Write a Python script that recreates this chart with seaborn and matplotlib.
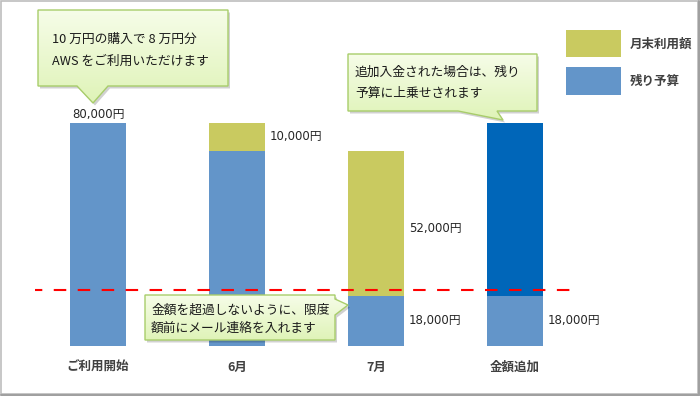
import numpy as np
import pandas as pd
import matplotlib
matplotlib.use("Agg")
import matplotlib.pyplot as plt
from matplotlib.patches import Polygon, Rectangle
import seaborn as sns

# ---- data ----
categories = ["ご利用開始", "6月", "7月", "金額追加"]
remaining = [80000, 70000, 18000, 18000]   # 残り予算
used = [0, 10000, 52000, 0]                # 月末利用額
added = [0, 0, 0, 62000]                   # 追加入金
alert_level = 20000
value_labels = ["80,000円", "10,000円", "52,000円", "18,000円", "18,000円"]
legend_labels = ["月末利用額", "残り予算"]
callout_texts = [
    ["10 万円の購入で 8 万円分", "AWS をご利用いただけます"],
    ["追加入金された場合は、残り", "予算に上乗せされます"],
    ["金額を超過しないように、限度", "額前にメール連絡を入れます"],
]

sns.set_theme(style="white")
plt.rcParams["font.family"] = ["Noto Sans CJK JP", "DejaVu Sans"]

C_BLUE = "#6395c9"
C_YEL = "#c9ca60"
C_DARK = "#0066b9"
TXT = "#262626"
VAL_FONT = ["DejaVu Sans", "Noto Sans CJK JP"]

W, H = 700, 396
fig = plt.figure(figsize=(7.0, 3.96), dpi=100)
fig.patch.set_facecolor("white")

# main axes: baseline at y=346px, 2.7875 px per 1000
base_px = 346
px_per_unit = 2.7875 / 1000
ax = fig.add_axes([0, (H - base_px) / H, 1, base_px / H], zorder=1)
df = pd.DataFrame({"cat": categories, "remaining": remaining,
                   "used": used, "added": added})
df["rem_used"] = df["remaining"] + df["used"]

bw = 56 / 139
sns.barplot(data=df, x="cat", y="remaining", color=C_BLUE, saturation=1,
            width=bw, linewidth=0, edgecolor="none", ax=ax, order=categories)
sns.barplot(data=df, x="cat", y="used", bottom=df["remaining"].to_numpy(),
            color=C_YEL, saturation=1, width=bw, linewidth=0,
            edgecolor="none", ax=ax, order=categories)
sns.barplot(data=df, x="cat", y="added", bottom=df["rem_used"].to_numpy(),
            color=C_DARK, saturation=1, width=bw, linewidth=0,
            edgecolor="none", ax=ax, order=categories)

x_left = -98 / 139
x_right = (W - 98) / 139
ax.set_xlim(x_left, x_right)
ax.set_ylim(0, base_px / px_per_unit)
for s in ax.spines.values():
    s.set_visible(False)
ax.set_yticks([])
ax.set_xlabel("")
ax.set_ylabel("")
ax.tick_params(axis="x", length=0, pad=10.5)
ax.set_xticks(range(len(categories)))
ax.set_xticklabels(categories, fontsize=9, fontweight="bold", color="#404040")
ax.patch.set_alpha(0)

# alert line
ax.hlines(alert_level, (35 - 98) / 139, (570 - 98) / 139, colors="#ff0000",
          linewidth=1.5, linestyles=(2.5, (6, 5.5)), zorder=4)

# value labels
fs = 8.5
ax.annotate(value_labels[0], (0, remaining[0] + used[0] + added[0]),
            xytext=(0, 6), textcoords="offset points", ha="center",
            va="center", fontsize=fs, color=TXT, family=VAL_FONT)
off = bw / 2 + 5 / 139
ax.text(1 + off, remaining[1] + used[1] / 2, value_labels[1], ha="left",
        va="center", fontsize=fs, color=TXT, family=VAL_FONT)
ax.text(2 + off, remaining[2] + used[2] / 2 - 2000, value_labels[2], ha="left",
        va="center", fontsize=fs, color=TXT, family=VAL_FONT)
ax.text(2 + off, remaining[2] / 2, value_labels[3], ha="left",
        va="center", fontsize=fs, color=TXT, family=VAL_FONT)
ax.text(3 + off, remaining[3] / 2, value_labels[4], ha="left",
        va="center", fontsize=fs, color=TXT, family=VAL_FONT)

# overlay in pixel coordinates
ov = fig.add_axes([0, 0, 1, 1], zorder=5)
ov.set_xlim(0, W)
ov.set_ylim(H, 0)
ov.axis("off")
ov.patch.set_alpha(0)

grad = np.linspace(0, 1, 64).reshape(-1, 1)
top_c = np.array([0.965, 0.99, 0.91])
bot_c = np.array([0.875, 0.955, 0.72])
grad_img = top_c[None, None, :] * (1 - grad[..., None]) + bot_c[None, None, :] * grad[..., None]


def callout(pts, lines, tx, ty, dy):
    pts = np.array(pts, dtype=float)
    shadow = Polygon(pts + [2, 2.5], closed=True, facecolor="#000000",
                     alpha=0.18, edgecolor="none")
    ov.add_patch(shadow)
    poly = Polygon(pts, closed=True, facecolor="none", edgecolor="#a8cd6a",
                   linewidth=1.0, zorder=3)
    ov.add_patch(poly)
    x0, x1 = pts[:, 0].min(), pts[:, 0].max()
    y0, y1 = pts[:, 1].min(), pts[:, 1].max()
    im = ov.imshow(grad_img, extent=[x0, x1, y1, y0], origin="upper",
                   aspect="auto", zorder=2, interpolation="bilinear")
    im.set_clip_path(poly)
    for i, ln in enumerate(lines):
        ov.text(tx, ty + i * dy, ln, ha="left", va="center", fontsize=9.2,
                color="#1a1a1a", zorder=4)


callout([(38, 10), (228, 10), (228, 86), (108, 86), (93, 103), (77, 86), (38, 86)],
        callout_texts[0], 52, 39, 22)
callout([(348, 54), (537, 54), (537, 111), (497, 111), (503, 120), (458, 111), (348, 111)],
        callout_texts[1], 355, 72, 21)
callout([(145, 295), (335, 295), (335, 299), (348, 305), (335, 315), (335, 340), (145, 340)],
        callout_texts[2], 151, 310, 18)

ov.set_xlim(0, W)
ov.set_ylim(H, 0)

# legend
ov.add_patch(Rectangle((566, 30), 55, 27, facecolor=C_YEL, edgecolor="none"))
ov.add_patch(Rectangle((566, 67), 55, 28, facecolor=C_BLUE, edgecolor="none"))
ov.text(630, 44, legend_labels[0], ha="left", va="center", fontsize=9,
        fontweight="bold", color="#404040")
ov.text(630, 81, legend_labels[1], ha="left", va="center", fontsize=9,
        fontweight="bold", color="#404040")

# frame
ov.add_patch(Rectangle((0.75, 0.75), W - 2.5, H - 2.5, facecolor="none",
                       edgecolor="#bdbdbd", linewidth=1.2))
ov.plot([W - 1.5, W - 1.5], [1, H - 1], color="#a0a0a0", lw=1.5)
ov.plot([1, W - 1], [H - 1.5, H - 1.5], color="#a0a0a0", lw=1.5)

fig.savefig("out.png", dpi=100, facecolor="white")
